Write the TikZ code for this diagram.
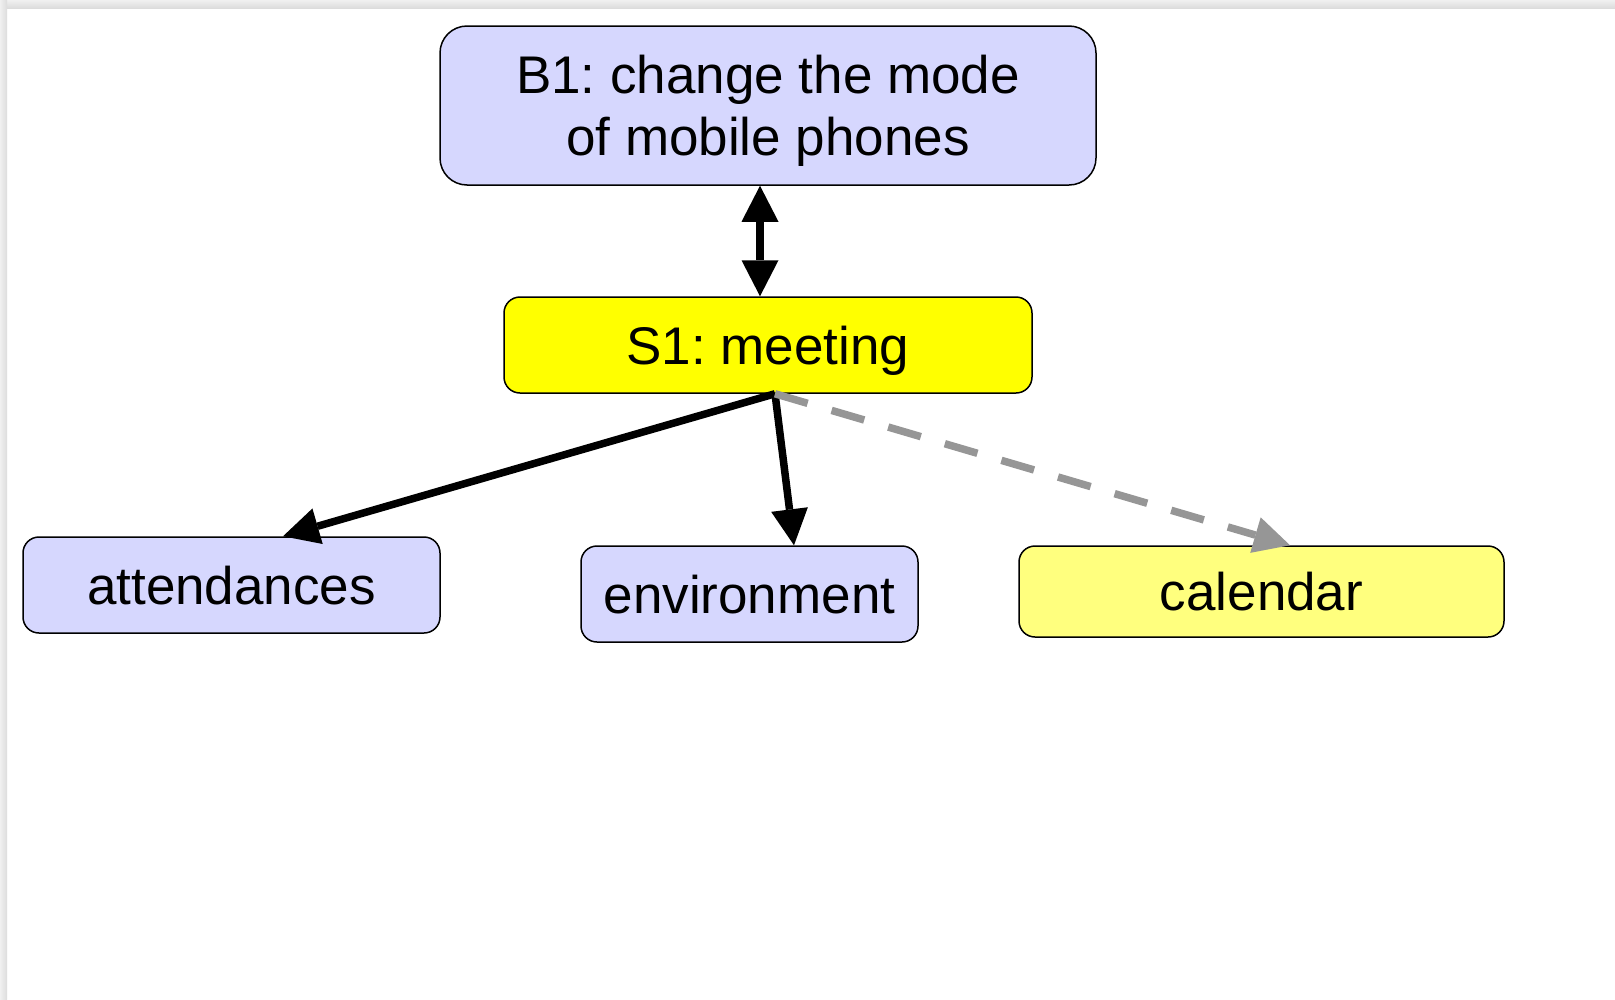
\documentclass[tikz,border=0pt]{standalone}
\usepackage{fontspec}
\setmainfont{Liberation Sans}
\usetikzlibrary{arrows.meta}

\definecolor{boxblue}{RGB}{214,215,254}
\definecolor{boxyellow}{RGB}{255,255,0}
\definecolor{boxpale}{RGB}{255,255,126}
\definecolor{linkgray}{RGB}{150,150,150}
\definecolor{edgelight}{RGB}{240,240,240}
\definecolor{edgedark}{RGB}{220,220,220}

\tikzset{
  card/.style={draw=black, line width=1.5pt, inner sep=0pt,
    font=\fontsize{53}{62}\selectfont\frenchspacing, align=center},
  oneline/.style={card, text height=38pt, text depth=0pt,
    minimum height=96pt, rounded corners=16pt},
  bluecard/.style={oneline, fill=boxblue},
  link/.style={line width=7.5pt, draw=black, -{Triangle[length=36pt,width=37pt,line width=0pt]}},
  bothways/.style={line width=7.5pt, draw=black,
    {Triangle[length=36pt,width=37pt,line width=0pt]}-{Triangle[length=36pt,width=37pt,line width=0pt]}},
  weaklink/.style={line width=7.5pt, draw=linkgray, dash pattern=on 34pt off 25pt,
    -{Triangle[length=36pt,width=37pt,line width=0pt,fill=linkgray]}}
}

\begin{document}
\begin{tikzpicture}[x=1pt,y=-1pt]
  % page with a soft edge along the top and left
  \useasboundingbox (0,0) rectangle (1615,999);
  \fill[white] (0,0) rectangle (1615,999);
  \shade[top color=edgelight, bottom color=edgedark] (0,0) rectangle (1615,8);
  \shade[left color=edgelight, right color=edgedark] (0,0) rectangle (7,999);

  % boxes
  \node[card, fill=boxblue, text depth=0pt, minimum width=656pt, minimum height=159pt,
        rounded corners=27pt] (b1) at (768,105.5) {B1: change the mode\\of mobile phones};
  \node[oneline, fill=boxyellow, minimum width=528pt] (s1) at (768,345) {S1: meeting};
  \node[bluecard, minimum width=417pt] (att) at (231.5,585) {attendances};
  \node[bluecard, minimum width=337pt] (env) at (749.5,594) {environment};
  \node[oneline, fill=boxpale, minimum width=485pt, minimum height=91pt] (cal) at (1261.5,591.5) {calendar};

  % connectors
  \coordinate (fork) at ([xshift=7pt]s1.south);
  \draw[bothways] ([xshift=-8pt]b1.south) -- ([xshift=-8pt]s1.north);
  \draw[link] (fork) -- ([xshift=51.5pt]att.north);
  \draw[link] (fork) -- ([xshift=44.5pt]env.north);
  \draw[weaklink] (fork) -- ([xshift=28.5pt]cal.north);
\end{tikzpicture}
\end{document}
